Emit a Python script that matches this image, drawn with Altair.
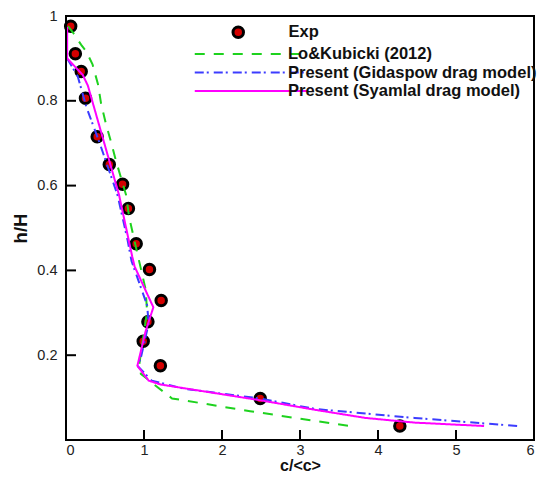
import altair as alt
import pandas as pd

# Experimental points
exp_c = [0.06, 0.12, 0.195, 0.25, 0.40, 0.555, 0.725, 0.80, 0.90, 1.07, 1.22, 1.05, 0.99, 1.21, 2.49, 4.28]
exp_h = [0.976, 0.911, 0.869, 0.806, 0.715, 0.650, 0.603, 0.546, 0.463, 0.402, 0.329, 0.279, 0.233, 0.175, 0.098, 0.033]

# Lo & Kubicki (2012)
lo_c = [0.025, 0.09, 0.195, 0.26, 0.34, 0.41, 0.45, 0.51, 0.58, 0.64, 0.77, 0.81, 0.915, 1.02, 1.04, 1.0, 0.94, 0.96, 1.17, 1.36, 2.36, 3.63]
lo_h = [0.976, 0.961, 0.932, 0.916, 0.886, 0.839, 0.793, 0.747, 0.701, 0.659, 0.578, 0.525, 0.44, 0.356, 0.302, 0.256, 0.179, 0.156, 0.125, 0.098, 0.068, 0.033]

# Present (Gidaspow)
gi_c = [0.015, 0.15, 0.26, 0.43, 0.66, 0.79, 0.84, 1.04, 1.06, 0.96, 0.915, 1.1, 1.51, 2.48, 3.2, 4.47, 5.79]
gi_h = [0.90, 0.858, 0.786, 0.701, 0.578, 0.471, 0.422, 0.318, 0.275, 0.194, 0.175, 0.14, 0.121, 0.098, 0.073, 0.052, 0.033]

# Present (Syamlal)
sy_c = [0.015, 0.015, 0.215, 0.28, 0.68, 0.85, 0.88, 1.12, 1.02, 0.915, 1.06, 1.21, 1.93, 2.48, 3.2, 3.84, 4.47, 5.36]
sy_h = [0.974, 0.90, 0.861, 0.836, 0.578, 0.432, 0.409, 0.313, 0.256, 0.175, 0.14, 0.131, 0.110, 0.094, 0.071, 0.052, 0.041, 0.033]

line_names = ["Lo&Kubicki (2012)", "Present (Gidaspow drag model)", "Present (Syamlal drag model)"]
line_colors = ["#1ed21e", "#3c3cff", "#ff00ff"]
line_dashes = [[10, 9], [9, 3, 2, 5], [1, 0]]

x_dom = [0, 6]
y_dom = [0, 1]
x_ticks = [0, 1, 2, 3, 4, 5, 6]
y_ticks = [0, 0.2, 0.4, 0.6, 0.8, 1.0]

W, H = 468, 424
TICK_PX = 10
FONT = "Liberation Sans"

exp_df = pd.DataFrame({"c": exp_c, "h": exp_h, "series": "Exp"})
rows = []
for name, cs, hs in zip(line_names, [lo_c, gi_c, sy_c], [lo_h, gi_h, sy_h]):
    for i, (c, h) in enumerate(zip(cs, hs)):
        rows.append({"c": c, "h": h, "series": name, "idx": i})
lines_df = pd.DataFrame(rows)

xt_df = pd.DataFrame({"v": x_ticks})
yt_df = pd.DataFrame({"v": y_ticks})

xscale = alt.Scale(domain=x_dom, nice=False, zero=False)
yscale = alt.Scale(domain=y_dom, nice=False, zero=False)

xaxis = alt.Axis(values=x_ticks, title="c/<c>", grid=False, ticks=False, domain=False,
                 labelFont=FONT, labelFontSize=14.5, labelColor="#222", labelPadding=3,
                 titleFont=FONT, titleFontSize=16, titleFontWeight="bold", titleColor="#111",
                 titlePadding=1)
yaxis = alt.Axis(values=y_ticks, title="h/H", grid=False, ticks=False, domain=False,
                 labelExpr="datum.value == 0 ? '' : format(datum.value, '.1~f')",
                 labelFont=FONT, labelFontSize=14.5, labelColor="#222", labelPadding=9,
                 titleFont=FONT, titleFontSize=18.5, titleFontWeight="bold", titleColor="#111",
                 titlePadding=6)

points = alt.Chart(exp_df).mark_point(filled=True, size=110, stroke="black", strokeWidth=3, opacity=1).encode(
    x=alt.X("c:Q", scale=xscale, axis=xaxis),
    y=alt.Y("h:Q", scale=yscale, axis=yaxis),
    fill=alt.Fill("series:N", scale=alt.Scale(domain=["Exp"], range=["#d40000"]),
                  legend=alt.Legend(orient="none", legendX=164, legendY=8, title=None, padding=0,
                                    symbolType="circle", symbolSize=110, symbolStrokeColor="black",
                                    symbolStrokeWidth=3, symbolFillColor="#d40000",
                                    labelFont=FONT, labelFontSize=16.5, labelFontWeight="bold",
                                    labelColor="#111", labelOffset=42, labelLimit=0)),
)

leg = alt.Legend(orient="none", legendX=176, legendY=29, title=None, padding=0,
                 symbolType="M-7.5,0H7.5", symbolSize=225, symbolStrokeWidth=2.2,
                 labelFont=FONT, labelFontSize=16.5, labelFontWeight="bold", labelColor="#111",
                 labelOffset=28, rowPadding=0.5, labelLimit=0)

lines = alt.Chart(lines_df).mark_line(strokeWidth=2).encode(
    x=alt.X("c:Q", scale=xscale, axis=xaxis),
    y=alt.Y("h:Q", scale=yscale, axis=yaxis),
    order="idx:Q",
    color=alt.Color("series:N", scale=alt.Scale(domain=line_names, range=line_colors), legend=leg),
    strokeDash=alt.StrokeDash("series:N", scale=alt.Scale(domain=line_names, range=line_dashes), legend=leg),
)

# decoration layers (no axes): inward ticks and plot frame
xt = alt.Chart(xt_df).mark_rule(color="black", strokeWidth=2).encode(
    x=alt.X("v:Q", scale=xscale, axis=None), y=alt.value(H), y2=alt.value(H - TICK_PX))
yt = alt.Chart(yt_df).mark_rule(color="black", strokeWidth=2).encode(
    y=alt.Y("v:Q", scale=yscale, axis=None), x=alt.value(0), x2=alt.value(TICK_PX))
frame_x = alt.Chart(pd.DataFrame({"v": x_dom})).mark_rule(color="black", strokeWidth=2).encode(
    x=alt.X("v:Q", scale=xscale, axis=None), y=alt.value(0), y2=alt.value(H))
frame_y = alt.Chart(pd.DataFrame({"v": y_dom})).mark_rule(color="black", strokeWidth=2).encode(
    y=alt.Y("v:Q", scale=yscale, axis=None), x=alt.value(0), x2=alt.value(W))

data_layer = alt.layer(points, lines)
deco_layer = alt.layer(frame_x, frame_y, xt, yt)

chart = alt.layer(data_layer, deco_layer).resolve_axis(
    x="independent", y="independent"
).properties(
    width=W, height=H,
    autosize=alt.AutoSizeParams(type="none"),
    padding={"left": 58, "top": 8, "right": 5, "bottom": 36},
).configure_view(stroke="black", strokeWidth=2)

chart.save("out.html", embed_options={"renderer": "svg", "actions": False})
